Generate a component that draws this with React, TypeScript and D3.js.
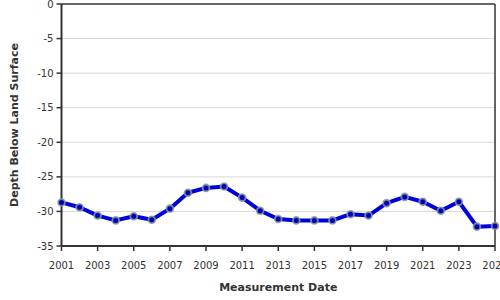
import React from "react";
import * as d3 from "d3";

const years = [2001, 2002, 2003, 2004, 2005, 2006, 2007, 2008, 2009, 2010, 2011, 2012, 2013, 2014, 2015, 2016, 2017, 2018, 2019, 2020, 2021, 2022, 2023, 2024, 2025];
const depths = [-28.7, -29.4, -30.6, -31.3, -30.7, -31.2, -29.6, -27.3, -26.6, -26.4, -28.0, -29.9, -31.1, -31.3, -31.3, -31.3, -30.4, -30.6, -28.8, -27.9, -28.6, -29.9, -28.6, -32.2, -32.1];
const xTicks = [2001, 2003, 2005, 2007, 2009, 2011, 2013, 2015, 2017, 2019, 2021, 2023, 2025];
const yTicks = [0, -5, -10, -15, -20, -25, -30, -35];

export default function App() {
  const W = 500, H = 300;
  const left = 61.5, right = 495, top = 4, bottom = 246;
  const x = d3.scaleLinear().domain([2001, 2025]).range([left, right]);
  const y = d3.scaleLinear().domain([0, -35]).range([top, bottom]);
  const data = years.map((yr, i) => ({ yr, v: depths[i] }));
  const line = d3.line<{ yr: number; v: number }>().x(d => x(d.yr)).y(d => y(d.v));
  const font = "DejaVu Sans, sans-serif";
  return (
    <svg width={W} height={H} style={{ position: "absolute", left: 0, top: 0 }} fontFamily={font}>
      <rect x={0} y={0} width={W} height={H} fill="#fff" />
      {yTicks.filter(t => t !== 0 && t !== -35).map(t => (
        <line key={t} x1={left} x2={right} y1={y(t)} y2={y(t)} stroke="#d8d8d8" strokeWidth={1} />
      ))}
      <line x1={left} x2={right} y1={top} y2={top} stroke="#333" strokeWidth={1.5} />
      <line x1={right} x2={right} y1={top} y2={bottom} stroke="#333" strokeWidth={1.5} />
      <line x1={left} x2={right} y1={bottom} y2={bottom} stroke="#333" strokeWidth={2} />
      <line x1={left} x2={left} y1={top} y2={bottom} stroke="#333" strokeWidth={2} />
      {yTicks.map(t => (
        <g key={t}>
          <line x1={left - 5} x2={left} y1={y(t)} y2={y(t)} stroke="#333" strokeWidth={1.5} />
          <text x={left - 8} y={y(t)} dy="0.35em" textAnchor="end" fontSize={10} fill="#333">{t}</text>
        </g>
      ))}
      {xTicks.map(t => (
        <g key={t}>
          <line x1={x(t)} x2={x(t)} y1={bottom} y2={bottom + 5} stroke="#333" strokeWidth={1.5} />
          <text x={x(t)} y={bottom + 19} dy="0.35em" textAnchor="middle" fontSize={10} fill="#333">{t}</text>
        </g>
      ))}
      <path d={line(data) || ""} fill="none" stroke="#0000dd" strokeWidth={4} strokeLinejoin="round" />
      {data.map(d => (
        <circle key={d.yr} cx={x(d.yr)} cy={y(d.v)} r={3.4} fill="#0000bb" stroke="#8a9a9a" strokeOpacity={0.85} strokeWidth={1.8} />
      ))}
      <text transform={`translate(14,${(top + bottom) / 2}) rotate(-90)`} textAnchor="middle" dy="0.35em" fontSize={11} fontWeight="bold" fill="#333">Depth Below Land Surface</text>
      <text x={(left + right) / 2} y={287} textAnchor="middle" dy="0.35em" fontSize={11} fontWeight="bold" fill="#333">Measurement Date</text>
    </svg>
  );
}
